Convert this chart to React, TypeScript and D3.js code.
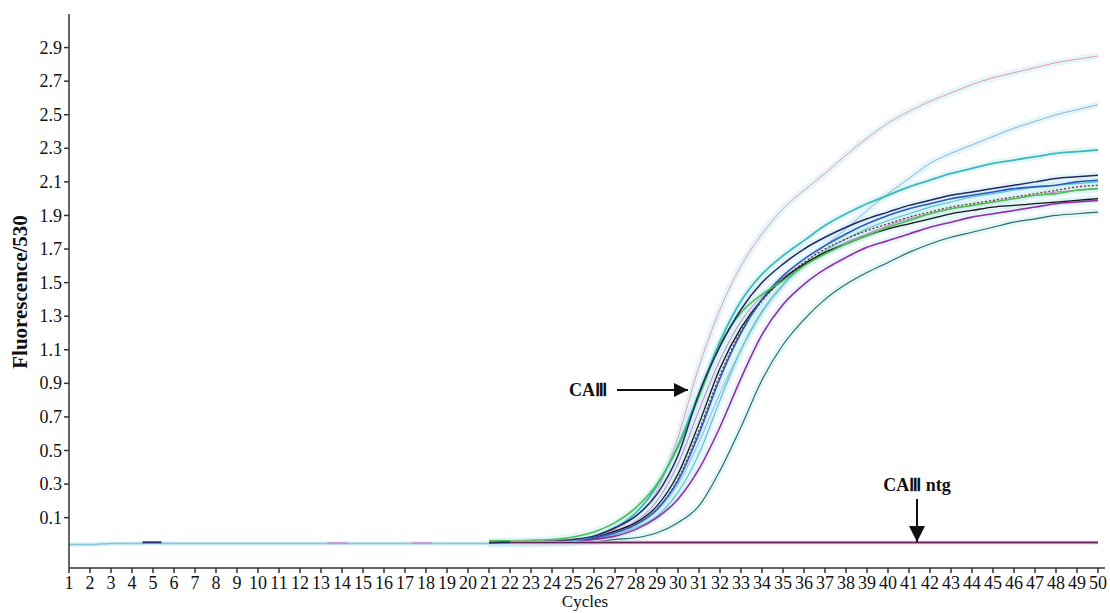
import React from "react";
import * as d3 from "d3";

// cycle numbers on the x axis
const cycles = [
  1, 2, 3, 4, 5, 6, 7, 8, 9, 10, 11, 12, 13, 14, 15, 16, 17, 18, 19, 20, 21, 22, 23, 24, 25,
  26, 27, 28, 29, 30, 31, 32, 33, 34, 35, 36, 37, 38, 39, 40, 41, 42, 43, 44, 45, 46, 47, 48, 49, 50,
];
const yTicks = [0.1, 0.3, 0.5, 0.7, 0.9, 1.1, 1.3, 1.5, 1.7, 1.9, 2.1, 2.3, 2.5, 2.7, 2.9];

// amplification curves, values for cycles 21..50
const ampStart = 21;
const pink = [
  -0.05, -0.05, -0.05, -0.045, -0.035, -0.015, 0.03, 0.11, 0.26, 0.58,
  1.0, 1.34, 1.6, 1.79, 1.94, 2.05, 2.15, 2.26, 2.36, 2.45,
  2.52, 2.58, 2.63, 2.68, 2.72, 2.75, 2.78, 2.81, 2.83, 2.85,
];
const lightBlue = [
  -0.05, -0.05, -0.05, -0.05, -0.045, -0.03, 0.0, 0.05, 0.14, 0.3,
  0.55, 0.84, 1.1, 1.32, 1.48, 1.61, 1.72, 1.82, 1.93, 2.03,
  2.12, 2.21, 2.27, 2.32, 2.37, 2.42, 2.46, 2.5, 2.53, 2.56,
];
const teal = [
  -0.05, -0.05, -0.05, -0.05, -0.05, -0.045, -0.03, -0.02, 0.01, 0.07,
  0.17, 0.38, 0.64, 0.92, 1.13, 1.28, 1.4, 1.49, 1.56, 1.62,
  1.68, 1.73, 1.77, 1.8, 1.83, 1.86, 1.88, 1.9, 1.91, 1.92,
];
const purple = [
  -0.05, -0.05, -0.05, -0.05, -0.045, -0.03, -0.01, 0.03, 0.1, 0.21,
  0.39, 0.64, 0.93, 1.19, 1.37, 1.49, 1.58, 1.65, 1.71, 1.75,
  1.79, 1.83, 1.86, 1.89, 1.91, 1.93, 1.95, 1.97, 1.98, 1.99,
];
const lightCyan = [
  -0.05, -0.05, -0.05, -0.05, -0.045, -0.025, 0.0, 0.04, 0.11, 0.25,
  0.48, 0.8, 1.1, 1.33, 1.49, 1.6, 1.69, 1.76, 1.82, 1.87,
  1.91, 1.95, 1.98, 2.01, 2.03, 2.05, 2.07, 2.08, 2.09, 2.1,
];
const darkRed = [
  -0.05, -0.05, -0.05, -0.05, -0.045, -0.02, 0.01, 0.06, 0.15, 0.33,
  0.62, 0.95, 1.21, 1.39, 1.52, 1.62, 1.7, 1.76, 1.81, 1.85,
  1.89, 1.92, 1.95, 1.97, 1.99, 2.01, 2.03, 2.05, 2.07, 2.08,
];
const violet = [
  -0.05, -0.05, -0.05, -0.05, -0.04, -0.015, 0.02, 0.08, 0.2, 0.42,
  0.74, 1.04, 1.27, 1.42, 1.53, 1.61, 1.68, 1.74, 1.79, 1.84,
  1.88, 1.91, 1.94, 1.96, 1.98, 2.0, 2.02, 2.04, 2.05, 2.06,
];
const black = [
  -0.05, -0.05, -0.05, -0.045, -0.04, -0.02, 0.02, 0.07, 0.17, 0.36,
  0.66, 0.99, 1.23, 1.4, 1.52, 1.61, 1.68, 1.73, 1.78, 1.82,
  1.85, 1.88, 1.91, 1.93, 1.95, 1.96, 1.97, 1.98, 1.99, 2.0,
];
const blue = [
  -0.05, -0.05, -0.05, -0.045, -0.04, -0.02, 0.01, 0.06, 0.15, 0.32,
  0.6, 0.93, 1.2, 1.4, 1.54, 1.64, 1.72, 1.79, 1.85, 1.9,
  1.94, 1.97, 2.0, 2.02, 2.04, 2.06, 2.07, 2.08, 2.1, 2.11,
];
const cyan = [
  -0.05, -0.05, -0.05, -0.045, -0.035, -0.01, 0.04, 0.13, 0.29, 0.53,
  0.84, 1.15, 1.39, 1.55, 1.66, 1.75, 1.84, 1.91, 1.97, 2.02,
  2.07, 2.11, 2.15, 2.18, 2.21, 2.23, 2.25, 2.27, 2.28, 2.29,
];
const navy = [
  -0.05, -0.045, -0.045, -0.04, -0.03, -0.01, 0.04, 0.11, 0.24, 0.47,
  0.84, 1.12, 1.34, 1.5, 1.61, 1.7, 1.77, 1.83, 1.88, 1.92,
  1.96, 1.99, 2.02, 2.04, 2.06, 2.08, 2.1, 2.12, 2.13, 2.14,
];
const green = [
  -0.04, -0.04, -0.035, -0.03, -0.015, 0.015, 0.07, 0.16, 0.3, 0.52,
  0.82, 1.13, 1.32, 1.43, 1.51, 1.6, 1.67, 1.73, 1.78, 1.83,
  1.87, 1.91, 1.94, 1.96, 1.98, 2.0, 2.02, 2.03, 2.05, 2.06,
];

const curves = [
  { values: lightBlue, color: "#8fb2dc", width: 1 },
  { values: pink, color: "#e59ab9", width: 1 },
  { values: teal, color: "#2d6b66", width: 1.2 },
  { values: lightCyan, color: "#5cc3d6", width: 1.2 },
  { values: violet, color: "#c678cc", width: 1 },
  { values: purple, color: "#9a2aa6", width: 1.6 },
  { values: darkRed, color: "#7a1e1e", width: 1.2, dash: "2 2" },
  { values: black, color: "#141414", width: 1.3 },
  { values: blue, color: "#2c58c0", width: 1.6 },
  { values: cyan, color: "#3cb9bd", width: 1.8 },
  { values: green, color: "#4cc04c", width: 1.6 },
  { values: navy, color: "#262663", width: 1.5 },
];

// flat baseline cycles 1..22
const baseline = [
  -0.06, -0.06, -0.054, -0.054, -0.053, -0.054, -0.054, -0.054, -0.054, -0.054, -0.054,
  -0.054, -0.054, -0.054, -0.054, -0.054, -0.054, -0.054, -0.054, -0.054, -0.054, -0.052,
];
// short coloured pieces sitting on the baseline
const baseBits = [
  { from: 4.5, to: 5.4, v: -0.047, color: "#2a3080" },
  { from: 13.3, to: 14.3, v: -0.052, color: "#c896d6" },
  { from: 17.3, to: 18.3, v: -0.052, color: "#c896d6" },
  { from: 21.0, to: 22.0, v: -0.04, color: "#5cc05c" },
  { from: 22.0, to: 23.0, v: -0.046, color: "#2a2a70" },
  { from: 23.0, to: 24.0, v: -0.04, color: "#5cc05c" },
  { from: 24.0, to: 25.0, v: -0.045, color: "#2a2a70" },
];

// no template control, cycles 22..50
const ntgStart = 22;
const ntg = [
  -0.048, -0.048, -0.048, -0.048, -0.048, -0.048, -0.048, -0.048, -0.048, -0.048,
  -0.048, -0.048, -0.048, -0.048, -0.048, -0.048, -0.048, -0.048, -0.048, -0.048,
  -0.048, -0.048, -0.048, -0.048, -0.048, -0.048, -0.048, -0.048, -0.048,
];

const W = 1110;
const H = 613;
const serif = "Liberation Serif, Times New Roman, serif";

export default function App() {
  const x = d3.scaleLinear().domain([1, 50]).range([69, 1098]);
  const y = d3.scaleLinear().domain([-0.2, 3.1]).range([568, 14]);

  const line = d3
    .line<[number, number]>()
    .x((d) => x(d[0]))
    .y((d) => y(d[1]))
    .curve(d3.curveMonotoneX);

  const toPts = (vals: number[], start: number) =>
    vals.map((v, i) => [start + i, v] as [number, number]);

  const basePath = line(toPts(baseline, 1)) || "";
  const ntgPath = line(toPts(ntg, ntgStart)) || "";

  return (
    <svg
      width={W}
      height={H}
      style={{ position: "absolute", left: 0, top: 0, background: "#fff", fontFamily: serif }}
    >
      <defs>
        <marker id="ah" viewBox="0 0 10 10" refX="10" refY="5" markerWidth="14" markerHeight="14" orient="auto" markerUnits="userSpaceOnUse">
          <path d="M0,0 L10,5 L0,10 z" fill="#111" />
        </marker>
        <marker id="ahv" viewBox="0 0 10 10" refX="10" refY="5" markerWidth="16" markerHeight="18" orient="auto" markerUnits="userSpaceOnUse">
          <path d="M0,0 L10,5 L0,10 z" fill="#111" />
        </marker>
      </defs>

      {/* haze around the traces */}
      {curves.map((c, i) => (
        <path
          key={"h" + i}
          d={line(toPts(c.values, ampStart)) || ""}
          fill="none"
          stroke="#cdeef3"
          strokeWidth={7}
          strokeOpacity={0.55}
        />
      ))}
      <path d={basePath} fill="none" stroke="#d4eff5" strokeWidth={4} />

      {/* baseline */}
      <path d={basePath} fill="none" stroke="#86c6e2" strokeWidth={1.6} />
      {baseBits.map((b, i) => (
        <line
          key={"b" + i}
          x1={x(b.from)}
          x2={x(b.to)}
          y1={y(b.v)}
          y2={y(b.v)}
          stroke={b.color}
          strokeWidth={2}
        />
      ))}

      {/* amplification curves */}
      {curves.map((c, i) => (
        <path
          key={"c" + i}
          d={line(toPts(c.values, ampStart)) || ""}
          fill="none"
          stroke={c.color}
          strokeWidth={c.width}
          strokeDasharray={(c as any).dash}
        />
      ))}

      {/* ntg flat line */}
      <path d={ntgPath} fill="none" stroke="#e7a2cb" strokeWidth={3.4} />
      <path d={ntgPath} fill="none" stroke="#5e2458" strokeWidth={1.6} />

      {/* axes */}
      <g stroke="#333" strokeWidth={1.5} fill="none">
        <line x1={69} x2={69} y1={14} y2={568} />
        <line x1={69} x2={1105} y1={568} y2={568} />
        {yTicks.map((t) => (
          <line key={"yt" + t} x1={64} x2={69} y1={y(t)} y2={y(t)} />
        ))}
        {cycles.map((c) => (
          <line key={"xt" + c} x1={x(c)} x2={x(c)} y1={568} y2={573} />
        ))}
      </g>
      <g fill="#111">
        {yTicks.map((t) => (
          <text key={"yl" + t} x={62} y={y(t)} dy="0.34em" textAnchor="end" fontSize={18}>
            {t.toFixed(1)}
          </text>
        ))}
        {cycles.map((c) => (
          <text key={"xl" + c} x={x(c)} y={589} textAnchor="middle" fontSize={18}>
            {c}
          </text>
        ))}
      </g>

      <text
        transform="translate(27,292) rotate(-90)"
        textAnchor="middle"
        fontSize={21}
        fontWeight="bold"
        fill="#111"
      >
        Fluorescence/530
      </text>
      <text x={585} y={607} textAnchor="middle" fontSize={17} fill="#111">
        Cycles
      </text>

      {/* annotations */}
      <text x={588} y={390} dy="0.35em" textAnchor="middle" fontSize={18} fontWeight="bold" fill="#111">
        CAⅢ
      </text>
      <line x1={617} x2={688} y1={390} y2={390} stroke="#111" strokeWidth={2} markerEnd="url(#ah)" />
      <text x={917} y={485} dy="0.35em" textAnchor="middle" fontSize={18} fontWeight="bold" fill="#111">
        CAⅢ ntg
      </text>
      <line x1={917} x2={917} y1={499} y2={542} stroke="#111" strokeWidth={2} markerEnd="url(#ahv)" />
    </svg>
  );
}
